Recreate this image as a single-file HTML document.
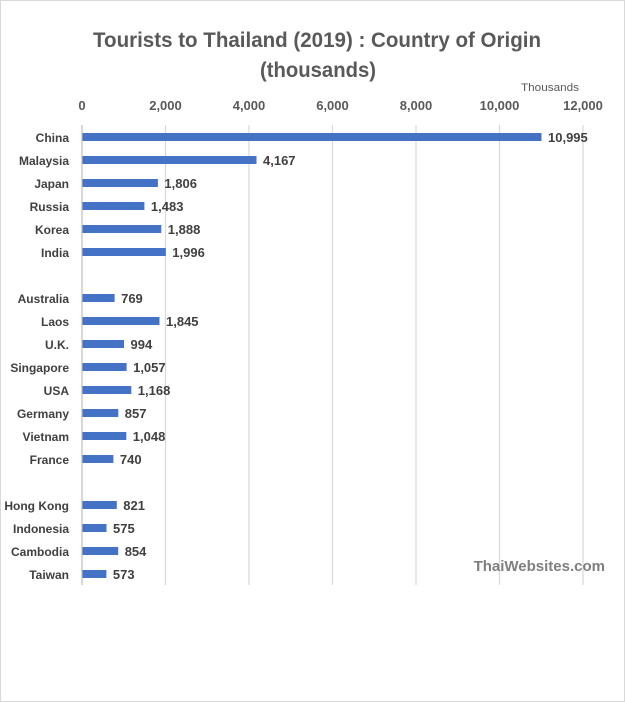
<!DOCTYPE html>
<html><head><meta charset="utf-8"><style>body{margin:0;background:#fff}svg{display:block}</style></head>
<body>
<svg width="625" height="702" xmlns="http://www.w3.org/2000/svg" font-family="Liberation Sans, sans-serif">
<rect x="0.5" y="0.5" width="624" height="701" fill="#fff" stroke="#d9d9d9"/>
<text x="317" y="47" text-anchor="middle" font-size="21" font-weight="bold" fill="#595959" textLength="448" lengthAdjust="spacingAndGlyphs">Tourists to Thailand (2019) : Country of Origin</text>
<text x="318" y="77" text-anchor="middle" font-size="21" font-weight="bold" fill="#595959" textLength="116" lengthAdjust="spacingAndGlyphs">(thousands)</text>
<text x="550" y="91" text-anchor="middle" font-size="11" fill="#595959" textLength="58" lengthAdjust="spacingAndGlyphs">Thousands</text>
<g stroke="#d9d9d9" stroke-width="1.2">
<line x1="165.5" y1="125" x2="165.5" y2="585"/><line x1="249" y1="125" x2="249" y2="585"/>
<line x1="332.5" y1="125" x2="332.5" y2="585"/><line x1="416" y1="125" x2="416" y2="585"/>
<line x1="499.5" y1="125" x2="499.5" y2="585"/><line x1="583" y1="125" x2="583" y2="585"/>
<line x1="82" y1="125" x2="82" y2="585" stroke="#bfbfbf"/>
</g>
<g font-size="13" font-weight="bold" fill="#595959" text-anchor="middle">
<text x="82" y="110">0</text><text x="165.5" y="110">2,000</text><text x="249" y="110">4,000</text>
<text x="332.5" y="110">6,000</text><text x="416" y="110">8,000</text><text x="499.5" y="110">10,000</text><text x="583" y="110">12,000</text>
</g>
<g fill="#4472c4">
<rect x="82.5" y="133" width="459.0" height="8"/>
<rect x="82.5" y="156" width="174.0" height="8"/>
<rect x="82.5" y="179" width="75.4" height="8"/>
<rect x="82.5" y="202" width="61.9" height="8"/>
<rect x="82.5" y="225" width="78.8" height="8"/>
<rect x="82.5" y="248" width="83.3" height="8"/>
<rect x="82.5" y="294" width="32.1" height="8"/>
<rect x="82.5" y="317" width="77.0" height="8"/>
<rect x="82.5" y="340" width="41.5" height="8"/>
<rect x="82.5" y="363" width="44.1" height="8"/>
<rect x="82.5" y="386" width="48.8" height="8"/>
<rect x="82.5" y="409" width="35.8" height="8"/>
<rect x="82.5" y="432" width="43.8" height="8"/>
<rect x="82.5" y="455" width="30.9" height="8"/>
<rect x="82.5" y="501" width="34.3" height="8"/>
<rect x="82.5" y="524" width="24.0" height="8"/>
<rect x="82.5" y="547" width="35.7" height="8"/>
<rect x="82.5" y="570" width="23.9" height="8"/>
</g>
<g font-size="12" font-weight="bold" fill="#404040" text-anchor="end">
<text x="69" y="142">China</text>
<text x="69" y="165">Malaysia</text>
<text x="69" y="188">Japan</text>
<text x="69" y="211">Russia</text>
<text x="69" y="234">Korea</text>
<text x="69" y="257">India</text>
<text x="69" y="303">Australia</text>
<text x="69" y="326">Laos</text>
<text x="69" y="349">U.K.</text>
<text x="69" y="372">Singapore</text>
<text x="69" y="395">USA</text>
<text x="69" y="418">Germany</text>
<text x="69" y="441">Vietnam</text>
<text x="69" y="464">France</text>
<text x="69" y="510">Hong Kong</text>
<text x="69" y="533">Indonesia</text>
<text x="69" y="556">Cambodia</text>
<text x="69" y="579">Taiwan</text>
</g>
<g font-size="13" font-weight="bold" fill="#404040">
<text x="548" y="142">10,995</text>
<text x="263" y="165">4,167</text>
<text x="164.4" y="188">1,806</text>
<text x="150.9" y="211">1,483</text>
<text x="167.8" y="234">1,888</text>
<text x="172.3" y="257">1,996</text>
<text x="121.1" y="303">769</text>
<text x="166" y="326">1,845</text>
<text x="130.5" y="349">994</text>
<text x="133.1" y="372">1,057</text>
<text x="137.8" y="395">1,168</text>
<text x="124.8" y="418">857</text>
<text x="132.8" y="441">1,048</text>
<text x="119.9" y="464">740</text>
<text x="123.3" y="510">821</text>
<text x="113" y="533">575</text>
<text x="124.7" y="556">854</text>
<text x="112.9" y="579">573</text>
</g>
<text x="605" y="571" text-anchor="end" font-size="15" font-weight="bold" fill="#7f7f7f">ThaiWebsites.com</text>
</svg>
</body></html>
